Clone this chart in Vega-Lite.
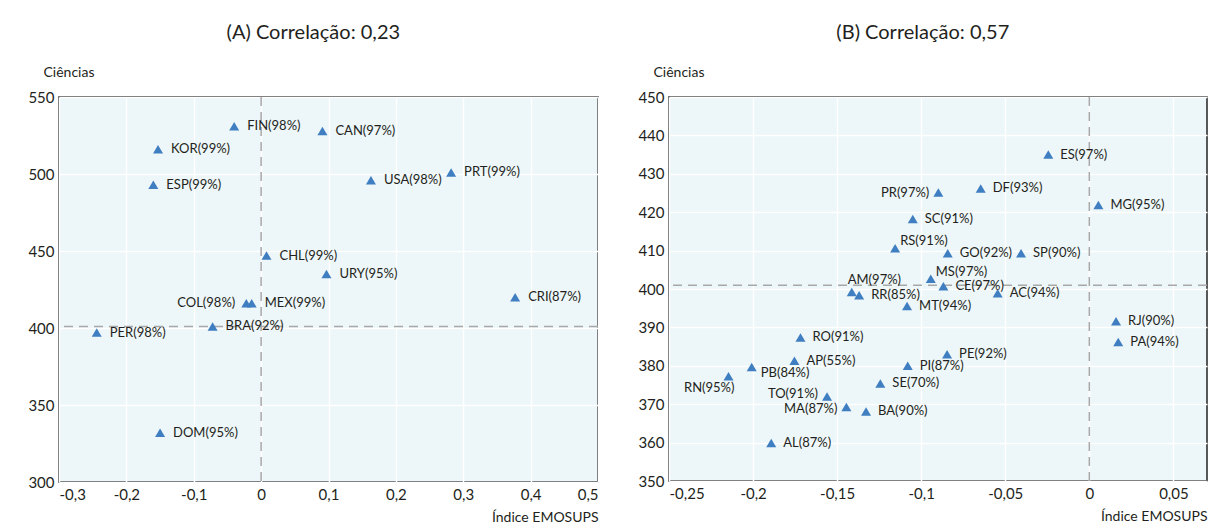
{
  "$schema": "https://vega.github.io/schema/vega-lite/v6.json",
  "padding": {"left": 27, "top": 22, "right": 10, "bottom": 5},
  "config": {
    "locale": {"number": {"decimal": ",", "thousands": ".", "grouping": [3], "currency": ["", ""], "minus": "-"}},
    "font": "Lato",
    "view": {"fill": "#edf6f8", "stroke": "#222222", "strokeWidth": 1.5},
    "axis": {"grid": true, "gridColor": "#ffffff", "gridWidth": 1.5, "domain": false, "ticks": false, "labelFont": "Lato", "labelFontSize": 15, "labelColor": "#231f20", "titleFont": "Lato", "titleFontSize": 14, "titleFontWeight": "normal", "titleColor": "#231f20", "labelPadding": 5},
    "title": {"font": "Lato", "fontSize": 20, "fontWeight": "normal", "color": "#231f20", "frame": "bounds", "offset": 22},
    "concat": {"spacing": 37}
  },
  "hconcat": [
    {
      "width": 539,
      "height": 385,
      "title": "(A) Correlação: 0,23",
      "data": {"values": [
        {"c": "FIN", "lab": "FIN(98%)", "x": -0.040, "y": 531},
        {"c": "CAN", "lab": "CAN(97%)", "x": 0.091, "y": 528},
        {"c": "KOR", "lab": "KOR(99%)", "x": -0.153, "y": 516},
        {"c": "ESP", "lab": "ESP(99%)", "x": -0.160, "y": 493},
        {"c": "USA", "lab": "USA(98%)", "x": 0.163, "y": 496},
        {"c": "PRT", "lab": "PRT(99%)", "x": 0.282, "y": 501},
        {"c": "CHL", "lab": "CHL(99%)", "x": 0.008, "y": 447},
        {"c": "URY", "lab": "URY(95%)", "x": 0.097, "y": 435},
        {"c": "CRI", "lab": "CRI(87%)", "x": 0.377, "y": 420},
        {"c": "COL", "lab": "COL(98%)", "x": -0.022, "y": 416},
        {"c": "MEX", "lab": "MEX(99%)", "x": -0.014, "y": 416},
        {"c": "BRA", "lab": "BRA(92%)", "x": -0.072, "y": 401},
        {"c": "PER", "lab": "PER(98%)", "x": -0.244, "y": 397},
        {"c": "DOM", "lab": "DOM(95%)", "x": -0.150, "y": 332}
      ]},
      "encoding": {
        "x": {"field": "x", "type": "quantitative", "scale": {"domain": [-0.3, 0.5], "nice": false, "zero": false},
              "axis": {"title": "Índice EMOSUPS", "values": [-0.3, -0.2, -0.1, 0, 0.1, 0.2, 0.3, 0.4, 0.5], "format": "~g", "titleAnchor": "end", "titlePadding": 8}},
        "y": {"field": "y", "type": "quantitative", "scale": {"domain": [300, 550], "nice": false, "zero": false},
              "axis": {"title": "Ciências", "values": [300, 350, 400, 450, 500, 550], "format": "d", "titleAngle": 0, "titleX": -16, "titleY": -25, "titleAlign": "left", "titleBaseline": "middle"}}
      },
      "layer": [
        {"data": {"values": [{"v": 0}]}, "mark": {"type": "rule", "strokeDash": [9, 6], "color": "#a8a8a8", "strokeWidth": 1.5},
         "encoding": {"x": {"field": "v", "type": "quantitative"}, "y": null}},
        {"data": {"values": [{"m": 401}]}, "mark": {"type": "rule", "strokeDash": [9, 6], "color": "#a8a8a8", "strokeWidth": 1.5},
         "encoding": {"y": {"field": "m", "type": "quantitative"}, "x": null}},
        {"mark": {"type": "point", "shape": "M-1,0.85L0,-0.85L1,0.85Z", "filled": true, "size": 100, "color": "#3f7ec1", "opacity": 1}},
        {"transform": [{"filter": {"not": {"field": "c", "oneOf": ["COL"]}}}],
         "mark": {"type": "text", "align": "left", "baseline": "middle", "dx": 13, "fontSize": 13, "color": "#231f20"},
         "encoding": {"text": {"field": "lab"}}},
        {"transform": [{"filter": {"field": "c", "oneOf": ["COL"]}}],
         "mark": {"type": "text", "align": "right", "baseline": "middle", "dx": -11, "fontSize": 13, "color": "#231f20"},
         "encoding": {"text": {"field": "lab"}}}
      ]
    },
    {
      "width": 538,
      "height": 384,
      "title": "(B) Correlação: 0,57",
      "data": {"values": [
        {"c": "ES", "lab": "ES(97%)", "x": -0.0244, "y": 435.0},
        {"c": "DF", "lab": "DF(93%)", "x": -0.0646, "y": 426.2},
        {"c": "MG", "lab": "MG(95%)", "x": 0.0054, "y": 421.9},
        {"c": "PR", "lab": "PR(97%)", "x": -0.0898, "y": 425.1},
        {"c": "SC", "lab": "SC(91%)", "x": -0.1050, "y": 418.2},
        {"c": "RS", "lab": "RS(91%)", "x": -0.1155, "y": 410.6},
        {"c": "GO", "lab": "GO(92%)", "x": -0.0842, "y": 409.3},
        {"c": "SP", "lab": "SP(90%)", "x": -0.0406, "y": 409.3},
        {"c": "MS", "lab": "MS(97%)", "x": -0.0943, "y": 402.7},
        {"c": "CE", "lab": "CE(97%)", "x": -0.0868, "y": 400.7},
        {"c": "AC", "lab": "AC(94%)", "x": -0.0545, "y": 398.9},
        {"c": "AM", "lab": "AM(97%)", "x": -0.1413, "y": 399.2},
        {"c": "RR", "lab": "RR(85%)", "x": -0.1369, "y": 398.4},
        {"c": "MT", "lab": "MT(94%)", "x": -0.1084, "y": 395.6},
        {"c": "RO", "lab": "RO(91%)", "x": -0.1718, "y": 387.4},
        {"c": "AP", "lab": "AP(55%)", "x": -0.1754, "y": 381.3},
        {"c": "PB", "lab": "PB(84%)", "x": -0.2008, "y": 379.7},
        {"c": "RN", "lab": "RN(95%)", "x": -0.2146, "y": 377.3},
        {"c": "TO", "lab": "TO(91%)", "x": -0.1560, "y": 372.0},
        {"c": "MA", "lab": "MA(87%)", "x": -0.1445, "y": 369.3},
        {"c": "BA", "lab": "BA(90%)", "x": -0.1328, "y": 368.1},
        {"c": "SE", "lab": "SE(70%)", "x": -0.1243, "y": 375.4},
        {"c": "PI", "lab": "PI(87%)", "x": -0.1080, "y": 380.0},
        {"c": "PE", "lab": "PE(92%)", "x": -0.0846, "y": 383.0},
        {"c": "AL", "lab": "AL(87%)", "x": -0.1892, "y": 359.9},
        {"c": "RJ", "lab": "RJ(90%)", "x": 0.0159, "y": 391.6},
        {"c": "PA", "lab": "PA(94%)", "x": 0.0172, "y": 386.2}
      ]},
      "encoding": {
        "x": {"field": "x", "type": "quantitative", "scale": {"domain": [-0.25, 0.07], "nice": false, "zero": false},
              "axis": {"title": "Índice EMOSUPS", "values": [-0.25, -0.2, -0.15, -0.1, -0.05, 0, 0.05], "format": "~g", "titleAnchor": "end", "titlePadding": 8}},
        "y": {"field": "y", "type": "quantitative", "scale": {"domain": [350, 450], "nice": false, "zero": false},
              "axis": {"title": "Ciências", "values": [350, 360, 370, 380, 390, 400, 410, 420, 430, 440, 450], "format": "d", "titleAngle": 0, "titleX": -16, "titleY": -25, "titleAlign": "left", "titleBaseline": "middle"}}
      },
      "layer": [
        {"data": {"values": [{"v": 0}]}, "mark": {"type": "rule", "strokeDash": [9, 6], "color": "#a8a8a8", "strokeWidth": 1.5},
         "encoding": {"x": {"field": "v", "type": "quantitative"}, "y": null}},
        {"data": {"values": [{"m": 401}]}, "mark": {"type": "rule", "strokeDash": [9, 6], "color": "#a8a8a8", "strokeWidth": 1.5},
         "encoding": {"y": {"field": "m", "type": "quantitative"}, "x": null}},
        {"mark": {"type": "point", "shape": "M-1,0.85L0,-0.85L1,0.85Z", "filled": true, "size": 100, "color": "#3f7ec1", "opacity": 1}},
        {"transform": [{"filter": {"not": {"field": "c", "oneOf": ["PR", "TO", "MA", "AM", "RS", "MS", "RN", "PB"]}}}],
         "mark": {"type": "text", "align": "left", "baseline": "middle", "dx": 12, "fontSize": 13, "color": "#231f20"},
         "encoding": {"text": {"field": "lab"}}},
        {"transform": [{"filter": {"field": "c", "oneOf": ["PR"]}}],
         "mark": {"type": "text", "align": "right", "baseline": "middle", "dx": -9, "fontSize": 13, "color": "#231f20"},
         "encoding": {"text": {"field": "lab"}}},
        {"transform": [{"filter": {"field": "c", "oneOf": ["MA"]}}],
         "mark": {"type": "text", "align": "right", "baseline": "middle", "dx": -9, "dy": 2, "fontSize": 13, "color": "#231f20"},
         "encoding": {"text": {"field": "lab"}}},
        {"transform": [{"filter": {"field": "c", "oneOf": ["TO"]}}],
         "mark": {"type": "text", "align": "right", "baseline": "middle", "dx": -9, "dy": -3, "fontSize": 13, "color": "#231f20"},
         "encoding": {"text": {"field": "lab"}}},
        {"transform": [{"filter": {"field": "c", "oneOf": ["AM"]}}],
         "mark": {"type": "text", "align": "left", "baseline": "middle", "dx": -4, "dy": -12, "fontSize": 13, "color": "#231f20"},
         "encoding": {"text": {"field": "lab"}}},
        {"transform": [{"filter": {"field": "c", "oneOf": ["RS", "MS"]}}],
         "mark": {"type": "text", "align": "left", "baseline": "middle", "dx": 5, "dy": -7, "fontSize": 13, "color": "#231f20"},
         "encoding": {"text": {"field": "lab"}}},
        {"transform": [{"filter": {"field": "c", "oneOf": ["PB"]}}],
         "mark": {"type": "text", "align": "left", "baseline": "middle", "dx": 9, "dy": 6, "fontSize": 13, "color": "#231f20"},
         "encoding": {"text": {"field": "lab"}}},
        {"transform": [{"filter": {"field": "c", "oneOf": ["RN"]}}],
         "mark": {"type": "text", "align": "right", "baseline": "middle", "dx": 6, "dy": 12, "fontSize": 13, "color": "#231f20"},
         "encoding": {"text": {"field": "lab"}}}
      ]
    }
  ]
}
